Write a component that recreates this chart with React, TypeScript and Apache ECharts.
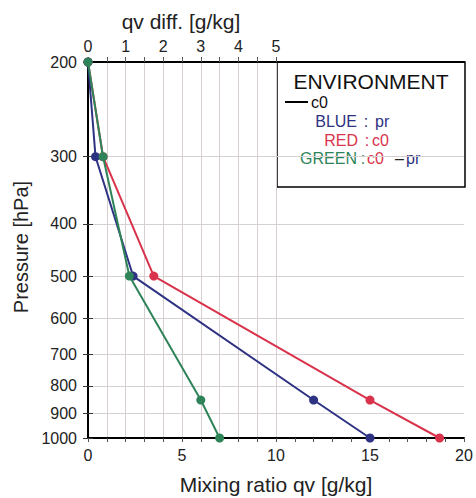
import React, { useEffect, useRef } from "react";
import * as echarts from "echarts";

// Pressure levels [hPa]
const pressureLevels = [200, 300, 500, 850, 1000];
// Mixing ratio qv [g/kg]
const prValues = [0, 0.4, 2.4, 12, 15];
const c0Values = [0, 0.8, 3.5, 15, 18.7];
// qv diff (c0 - pr) [g/kg], top axis
const diffValues = [0, 0.4, 1.1, 3, 3.5];

const pressureTicks = [200, 300, 400, 500, 600, 700, 800, 900, 1000];
const topTickValues = [0, 0.5, 1, 1.5, 2, 2.5, 3, 3.5, 4, 4.5, 5];
const topLabelValues = [0, 1, 2, 3, 4, 5];

const BLUE = "#2e3282";
const RED = "#d9334b";
const GREEN = "#2e8458";
const FONT = "Liberation Sans, Arial, Helvetica, sans-serif";

const pairs = (xs: number[]) => xs.map((x, i) => [x, pressureLevels[i]]);

const txt = (x: number, y: number, text: string, fill: string, fontSize: number, align: string) => ({
  type: "text",
  x,
  y,
  style: { text, fontSize, fontFamily: FONT, fill, align, verticalAlign: "middle" },
});

export default function App() {
  const ref = useRef<HTMLDivElement>(null);
  useEffect(() => {
    if (!ref.current) return;
    const chart = echarts.init(ref.current, undefined, { renderer: "svg" });
    const gridLeft = 88;
    const gridTop = 62;
    const gridRight = 464;
    const gridBottom = 438;
    const yAxisCommon = {
      type: "log" as const,
      min: 200,
      max: 1000,
      inverse: true,
      axisLine: { show: true, lineStyle: { color: "#000", width: 2 } },
      axisTick: { show: true, length: 5, customValues: pressureTicks, lineStyle: { color: "#333" } },
    };
    chart.setOption({
      animation: false,
      grid: { left: gridLeft, right: 476 - gridRight, top: gridTop, bottom: 498 - gridBottom, containLabel: false },
      xAxis: [
        {
          type: "value",
          position: "bottom",
          min: 0,
          max: 20,
          interval: 1,
          axisLine: { show: true, lineStyle: { color: "#000", width: 2 } },
          axisTick: { show: true, length: 4, lineStyle: { color: "#555" } },
          axisLabel: {
            margin: 9,
            fontSize: 16,
            fontFamily: FONT,
            color: "#222",
            formatter: (v: number) => (v % 5 === 0 ? String(v) : ""),
          },
          splitLine: { show: false },
        },
        {
          type: "value",
          position: "top",
          min: 0,
          max: 10,
          axisLine: { show: true, lineStyle: { color: "#000", width: 2 } },
          axisTick: { show: true, length: 5, customValues: topTickValues, lineStyle: { color: "#555" } },
          axisLabel: {
            customValues: topLabelValues,
            margin: 8,
            fontSize: 16,
            fontFamily: FONT,
            color: "#222",
            formatter: (v: number) => String(v),
          },
          splitLine: { show: true, lineStyle: { color: "#d8d0d0", width: 1 } },
        },
      ],
      yAxis: [
        {
          ...yAxisCommon,
          position: "left",
          axisLabel: {
            customValues: pressureTicks,
            margin: 11,
            fontSize: 16,
            fontFamily: FONT,
            color: "#222",
            formatter: (v: number) => String(Math.round(v)),
          },
          splitLine: { show: true, lineStyle: { color: "#d6d2d2", width: 1 } },
        },
        {
          ...yAxisCommon,
          position: "right",
          axisLabel: { show: false },
          splitLine: { show: false },
        },
      ],
      series: [
        {
          name: "c0",
          type: "line",
          xAxisIndex: 0,
          yAxisIndex: 0,
          data: pairs(c0Values),
          symbol: "circle",
          symbolSize: 9,
          lineStyle: { color: RED, width: 2 },
          itemStyle: { color: RED },
          z: 3,
        },
        {
          name: "pr",
          type: "line",
          xAxisIndex: 0,
          yAxisIndex: 0,
          data: pairs(prValues),
          symbol: "circle",
          symbolSize: 9,
          lineStyle: { color: BLUE, width: 2 },
          itemStyle: { color: BLUE },
          z: 4,
        },
        {
          name: "c0 - pr",
          type: "line",
          xAxisIndex: 1,
          yAxisIndex: 0,
          data: pairs(diffValues),
          symbol: "circle",
          symbolSize: 9,
          lineStyle: { color: GREEN, width: 2 },
          itemStyle: { color: GREEN },
          z: 5,
        },
      ],
      graphic: [
        txt(181, 21, "qv diff. [g/kg]", "#222", 21, "center"),
        txt(276, 484, "Mixing ratio qv [g/kg]", "#222", 21, "center"),
        {
          type: "text",
          x: 21,
          y: 247,
          rotation: Math.PI / 2,
          style: {
            text: "Pressure [hPa]",
            fontSize: 20,
            fontFamily: FONT,
            fill: "#222",
            align: "center",
            verticalAlign: "middle",
          },
        },
        {
          type: "group",
          z: 100,
          children: [
            {
              type: "rect",
              shape: { x: 277, y: 62, width: 188, height: 125 },
              style: { fill: "#fff", stroke: "#000", lineWidth: 1.5 },
            },
            txt(371, 81, "ENVIRONMENT", "#111", 21, "center"),
            {
              type: "line",
              shape: { x1: 285, y1: 102, x2: 308, y2: 102 },
              style: { stroke: "#000", lineWidth: 2 },
            },
            txt(311, 102, "c0", "#111", 16, "left"),
            txt(357, 121, "BLUE", BLUE, 16, "right"),
            txt(366, 121, ":", BLUE, 16, "center"),
            txt(375, 121, "pr", BLUE, 16, "left"),
            txt(358, 140, "RED", RED, 16, "right"),
            txt(367, 140, ":", RED, 16, "center"),
            txt(372, 140, "c0", RED, 16, "left"),
            txt(357, 158, "GREEN", GREEN, 16, "right"),
            txt(363, 158, ":", GREEN, 16, "center"),
            txt(367, 158, "c0", RED, 16, "left"),
            txt(395, 158, "–", "#222", 16, "left"),
            txt(406, 158, "pr", BLUE, 16, "left"),
          ],
        },
      ],
    });
    return () => chart.dispose();
  }, []);
  return <div ref={ref} style={{ width: 476, height: 498, position: "absolute", left: 0, top: 0 }} />;
}
